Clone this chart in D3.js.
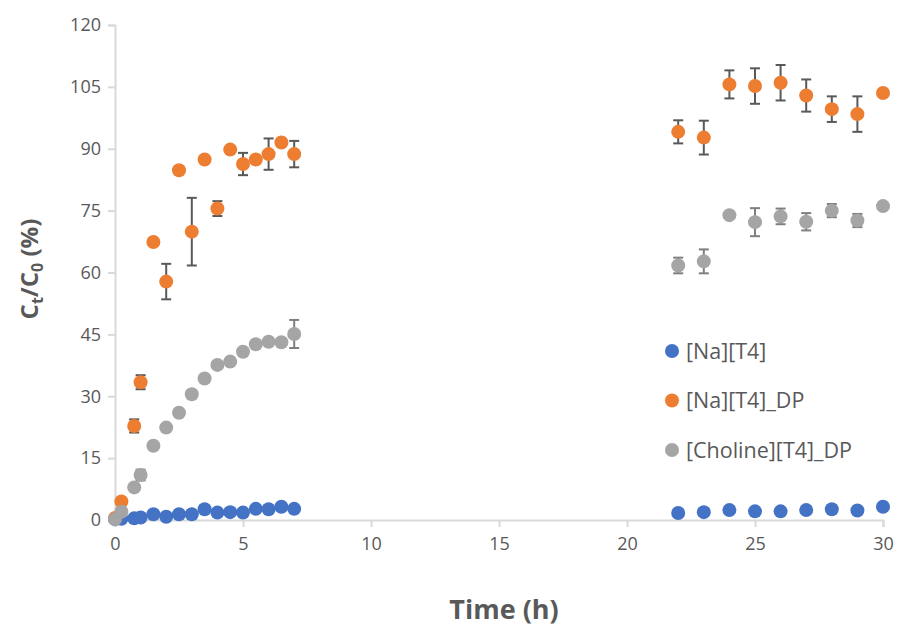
<!DOCTYPE html>
<html><head><meta charset="utf-8">
<script src="https://cdn.jsdelivr.net/npm/d3@7/dist/d3.min.js"></script>
<style>body{margin:0;background:#fff}svg{display:block}text{font-family:"Open Sans",Lato,sans-serif}</style>
</head><body><svg id="c" width="897" height="626"></svg>
<script>
// Data
const seriesNames = ["[Na][T4]", "[Na][T4]_DP", "[Choline][T4]_DP"];
const timeEarly = [0,0.25,0.75,1,1.5,2,2.5,3,3.5,4,4.5,5,5.5,6,6.5,7];
const timeLate = [22,23,24,25,26,27,28,29,30];
const naEarly = [0.2,0.3,0.4,0.6,1.4,0.8,1.4,1.4,2.6,1.8,1.9,1.8,2.7,2.6,3.2,2.7];
const naLate = [1.7,1.9,2.4,2.1,2.1,2.4,2.6,2.3,3.2];
const naDpEarly = [0.5,4.5,22.8,33.4,67.4,57.8,84.8,69.9,87.4,75.5,89.8,86.3,87.4,88.7,91.5,88.7];
const naDpEarlyErr = [0,0,1.6,1.7,0,4.3,0,8.2,0,1.8,0,2.7,0,3.8,0,3.2];
const naDpLate = [94.1,92.7,105.6,105.2,106.0,102.9,99.6,98.4,103.5];
const naDpLateErr = [2.8,4.1,3.4,4.3,4.3,3.9,3.1,4.3,0.6];
const chEarly = [0.2,2.0,7.9,10.9,18.0,22.4,26.0,30.5,34.3,37.6,38.4,40.8,42.6,43.2,43.1,45.1];
const chEarlyErr = [0,0,0,1.3,0,0,0,0,0,0,0,0,0,0,0,3.4];
const chLate = [61.7,62.7,73.9,72.2,73.6,72.3,75.0,72.6,76.1];
const chLateErr = [1.9,2.9,0,3.4,1.9,2.1,1.6,1.6,0];
const xTicks = [0,5,10,15,20,25,30];
const yTicks = [0,15,30,45,60,75,90,105,120];
const colors = ["#4472C4", "#ED7D31", "#A5A5A5"];
const errColors = ["#595959", "#595959", "#7F7F7F"];

const times = timeEarly.concat(timeLate);
const series = [
  {name: seriesNames[0], v: naEarly.concat(naLate), e: null},
  {name: seriesNames[1], v: naDpEarly.concat(naDpLate), e: naDpEarlyErr.concat(naDpLateErr)},
  {name: seriesNames[2], v: chEarly.concat(chLate), e: chEarlyErr.concat(chLateErr)}
];

const svg = d3.select("#c");
const x = d3.scaleLinear().domain([0,30]).range([115,883]);
const y = d3.scaleLinear().domain([0,120]).range([520,25]);
const axisCol = "#D9D9D9", txtCol = "#595959";

// axes
const xa = svg.append("g").attr("transform","translate(0,520)")
  .call(d3.axisBottom(x).tickValues(xTicks).tickSize(7).tickPadding(10));
const ya = svg.append("g").attr("transform","translate(115,0)")
  .call(d3.axisLeft(y).tickValues(yTicks).tickSize(7).tickPadding(7));
[xa, ya].forEach(a => {
  a.select(".domain").attr("stroke", axisCol).attr("stroke-width", 2);
  a.selectAll(".tick line").attr("stroke", axisCol).attr("stroke-width", 2);
  a.selectAll(".tick text").attr("fill", txtCol).attr("font-size", 18).attr("font-family","\"Open Sans\"");
});

// series
series.forEach((s, si) => {
  const g = svg.append("g");
  times.forEach((t, i) => {
    if (s.e && s.e[i] > 0) {
      const cx = x(t), y1 = y(s.v[i] + s.e[i]), y2 = y(s.v[i] - s.e[i]);
      g.append("line").attr("x1",cx).attr("x2",cx).attr("y1",y1).attr("y2",y2)
        .attr("stroke", errColors[si]).attr("stroke-width",2);
      [y1,y2].forEach(yy => g.append("line").attr("x1",cx-5).attr("x2",cx+5).attr("y1",yy).attr("y2",yy)
        .attr("stroke", errColors[si]).attr("stroke-width",2));
    }
  });
  g.selectAll("circle").data(s.v).join("circle")
    .attr("cx",(d,i)=>x(times[i])).attr("cy",d=>y(d)).attr("r",7).attr("fill",colors[si]);
});

// legend
const lg = svg.append("g");
seriesNames.forEach((n,i) => {
  const yy = 351 + i*49.5;
  lg.append("circle").attr("cx",672).attr("cy",yy).attr("r",7).attr("fill",colors[i]);
  lg.append("text").attr("x",686).attr("y",yy).attr("dy","0.35em").attr("fill",txtCol)
    .attr("font-size",21.5).text(n);
});

// axis titles
svg.append("text").attr("x",504).attr("y",619).attr("text-anchor","middle")
  .attr("font-size",27).attr("font-weight","bold").attr("fill",txtCol).text("Time (h)");
const yt = svg.append("text").attr("transform","translate(38,269) rotate(-90)")
  .attr("text-anchor","middle").attr("font-size",24).attr("font-weight","bold").attr("fill",txtCol);
yt.append("tspan").text("C");
yt.append("tspan").attr("font-size",16).attr("dy",5).text("t");
yt.append("tspan").attr("dy",-5).text("/C");
yt.append("tspan").attr("font-size",16).attr("dy",5).text("0");
yt.append("tspan").attr("dy",-5).text(" (%)");
</script></body></html>
